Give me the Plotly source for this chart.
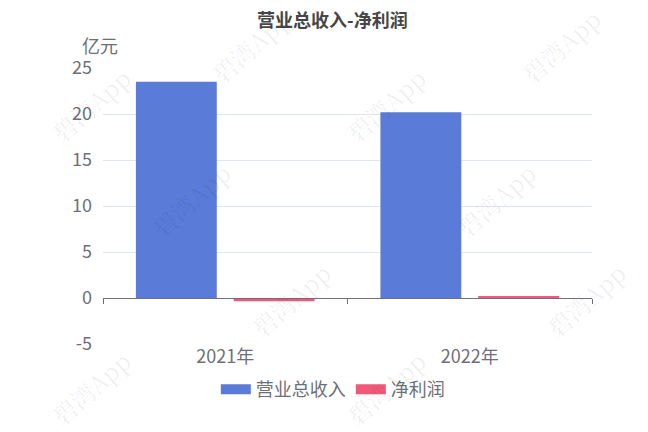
import plotly.graph_objects as go

categories = ["2021年", "2022年"]
revenue = [23.5, 20.2]
net_profit = [-0.35, 0.2]
series_names = ["营业总收入", "净利润"]
colors = ["#5b7bd8", "#f0597a"]
y_ticks = [-5, 0, 5, 10, 15, 20, 25]
y_tick_text = ["-5", "0", "5", "10", "15", "20", "25"]

FONT = "Noto Sans CJK SC, Noto Sans, sans-serif"
GRAY = "#6e7079"
W, H = 648, 432
ML, MR, MT, MB = 103, 56, 68, 88
PW, PH = W - ML - MR, H - MT - MB

fig = go.Figure()
fig.add_trace(go.Bar(x=categories, y=revenue, name=series_names[0], showlegend=False,
                     marker=dict(color=colors[0], line=dict(width=0))))
fig.add_trace(go.Bar(x=categories, y=net_profit, name=series_names[1], showlegend=False,
                     marker=dict(color=colors[1], line=dict(width=0))))
# legend entries
for name, c in zip(series_names, colors):
    fig.add_trace(go.Scatter(x=[None], y=[None], name=name, mode="lines",
                             line=dict(color=c, width=14), hoverinfo="skip"))
# helper trace for the bottom label axis
fig.add_trace(go.Scatter(x=categories, y=[None, None], xaxis="x2", showlegend=False,
                         hoverinfo="skip", mode="markers"))

# watermarks (page pixel centres)
wm_px = [(250, 46), (560, 46), (90, 105), (385, 105), (190, 200),
         (495, 200), (290, 300), (585, 300), (90, 388), (385, 388)]
anns = []
for (px, py) in wm_px:
    anns.append(dict(text="碧湾App", x=(px - ML) / PW, y=(H - MB - py) / PH,
                     xref="paper", yref="paper", xanchor="center", yanchor="middle",
                     showarrow=False, textangle=-42,
                     font=dict(family="Noto Serif CJK SC, DejaVu Serif, serif", size=24,
                               color="rgba(0,0,0,0.07)")))
anns.append(dict(text="亿元", x=0, y=1.0, xref="paper", yref="paper", xanchor="center",
                 yanchor="bottom", yshift=8, xshift=-3, showarrow=False,
                 font=dict(size=18, color=GRAY)))

fig.update_layout(
    width=W, height=H,
    margin=dict(l=ML, r=MR, t=MT, b=MB),
    paper_bgcolor="white", plot_bgcolor="white",
    font=dict(family=FONT, color=GRAY, size=18),
    title=dict(text="<b>营业总收入-净利润</b>", x=0.513, xanchor="center",
               y=0.953, yanchor="middle",
               font=dict(family=FONT, size=18, color="#464646")),
    barmode="group", bargap=0.2, bargroupgap=0.173,
    showlegend=True,
    legend=dict(orientation="h", x=0.47, xanchor="center", y=-0.165, yanchor="middle",
                font=dict(size=18, color=GRAY), itemwidth=30, traceorder="normal"),
    xaxis=dict(type="category", anchor="free", position=1/6, showline=True,
               linecolor=GRAY, linewidth=1, ticks="outside", tickson="boundaries",
               ticklen=5, tickcolor=GRAY, showticklabels=False, showgrid=False,
               zeroline=False),
    xaxis2=dict(type="category", overlaying="x", anchor="y", side="bottom",
                matches="x", showline=False, ticks="", showgrid=False,
                tickfont=dict(size=18, color=GRAY), zeroline=False),
    yaxis=dict(range=[-5, 25], tickvals=y_ticks, ticktext=y_tick_text, showgrid=True,
               gridcolor="#e0e6f1", zeroline=False, showline=False, ticks="",
               ticklabelstandoff=10, tickfont=dict(size=18, color=GRAY)),
    annotations=anns,
)

fig.write_html("out.html", config={"displayModeBar": False},
               post_script="document.body.style.margin='0px';")
